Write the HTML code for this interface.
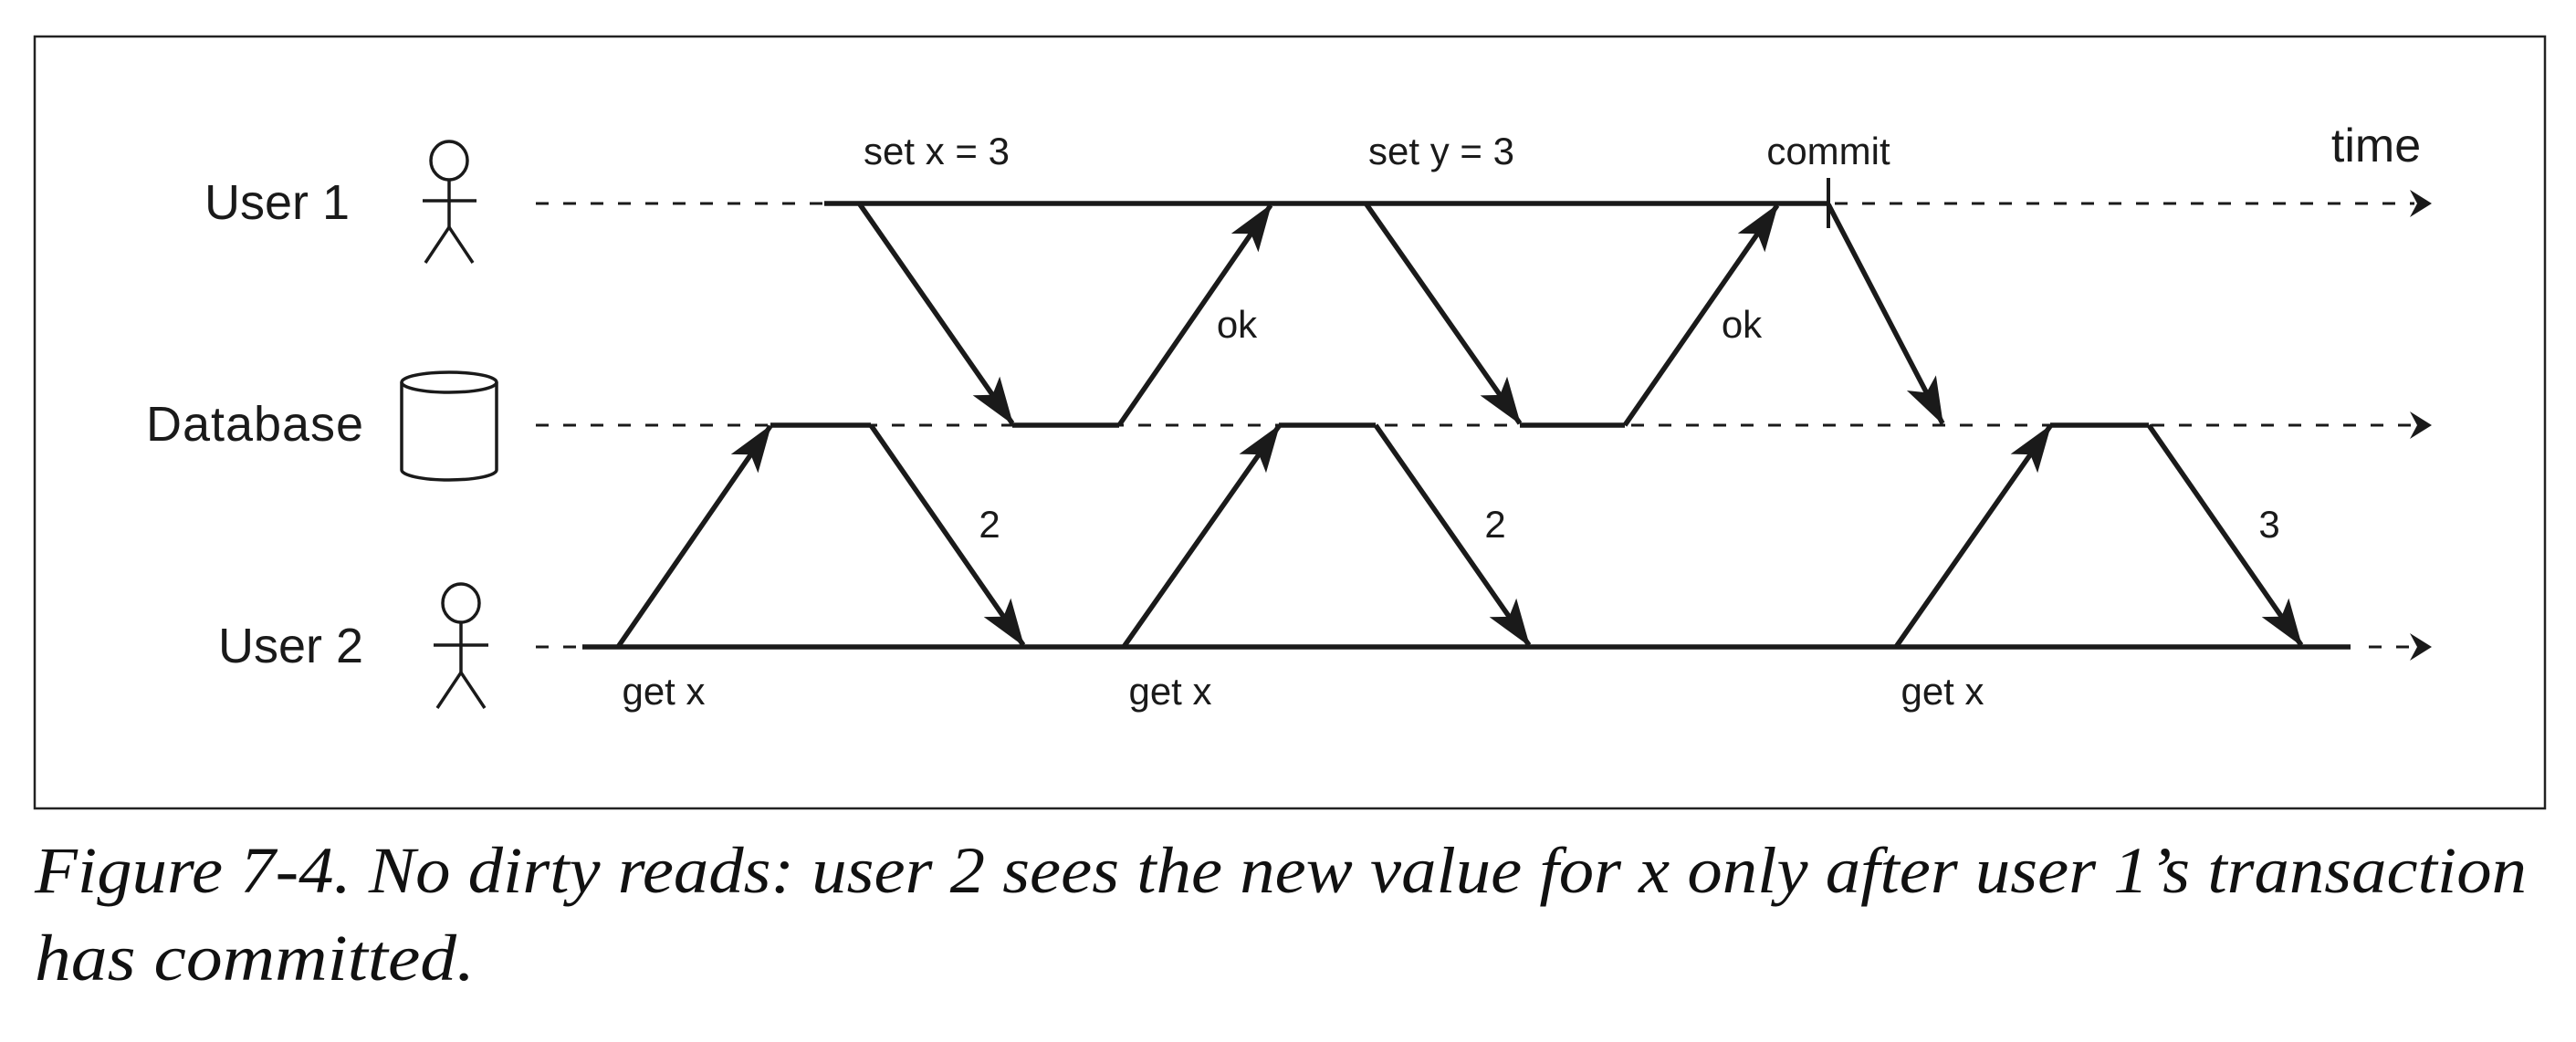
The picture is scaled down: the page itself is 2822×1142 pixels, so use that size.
<!DOCTYPE html>
<html><head><meta charset="utf-8"><style>
html,body{margin:0;padding:0;background:#fff}
svg{display:block}
</style></head><body>
<svg width="2822" height="1142" viewBox="0 0 2822 1142" xmlns="http://www.w3.org/2000/svg">
<defs>
<marker id="ah" markerUnits="userSpaceOnUse" markerWidth="60" markerHeight="40" viewBox="-52 -20 56 40" refX="0" refY="0" orient="auto">
<path d="M2,0 L-50,-18 L-38,0 L-50,18 Z" fill="#1a1a1a"/>
</marker>
</defs>
<rect x="38" y="40" width="2750" height="846" fill="none" stroke="#222" stroke-width="2.5"/>
<g font-family="Liberation Sans, sans-serif" fill="#1a1a1a">
<text x="383" y="240" font-size="54" text-anchor="end">User 1</text>
<text x="398" y="483" font-size="54" text-anchor="end" textLength="238">Database</text>
<text x="398" y="726" font-size="54" text-anchor="end">User 2</text>
<text x="1026" y="180" font-size="42" text-anchor="middle">set x = 3</text>
<text x="1579" y="180" font-size="42" text-anchor="middle">set y = 3</text>
<text x="2003" y="180" font-size="42" text-anchor="middle">commit</text>
<text x="2603" y="177" font-size="52" text-anchor="middle">time</text>
<text x="1355" y="370" font-size="42" text-anchor="middle">ok</text>
<text x="1908" y="370" font-size="42" text-anchor="middle">ok</text>
<text x="1084" y="589" font-size="42" text-anchor="middle">2</text>
<text x="1638" y="589" font-size="42" text-anchor="middle">2</text>
<text x="2486" y="589" font-size="42" text-anchor="middle">3</text>
<text x="727" y="772" font-size="42" text-anchor="middle">get x</text>
<text x="1282" y="772" font-size="42" text-anchor="middle">get x</text>
<text x="2128" y="772" font-size="42" text-anchor="middle">get x</text>
</g>
<g stroke="#1a1a1a" fill="none" stroke-width="3.5">
<!-- user1 figure -->
<ellipse cx="492" cy="176" rx="20" ry="21"/>
<line x1="492" y1="197" x2="492" y2="249"/>
<line x1="463" y1="220" x2="522" y2="220"/>
<polyline points="466,288 492,249 518,288"/>
<!-- user2 figure -->
<ellipse cx="505" cy="661" rx="20" ry="21"/>
<line x1="505" y1="682" x2="505" y2="737"/>
<line x1="475" y1="707" x2="535" y2="707"/>
<polyline points="479,776 505,737 531,776"/>
<!-- cylinder -->
<ellipse cx="492" cy="419" rx="52" ry="11"/>
<path d="M440,419 L440,515 A52,11 0 0 0 544,515 L544,419"/>
</g>
<g stroke="#1a1a1a" stroke-width="3" stroke-dasharray="14 16" fill="none">
<line x1="587" y1="223" x2="903" y2="223"/>
<line x1="2010" y1="223" x2="2645" y2="223"/>
<line x1="587" y1="466" x2="2645" y2="466"/>
<line x1="587" y1="709" x2="638" y2="709"/>
<line x1="2595" y1="709" x2="2645" y2="709"/>
</g>
<g fill="#1a1a1a">
<path d="M2664,223 L2640,208 L2648,223 L2640,238 Z"/>
<path d="M2664,466 L2640,451 L2648,466 L2640,481 Z"/>
<path d="M2664,709 L2640,694 L2648,709 L2640,724 Z"/>
</g>
<g stroke="#1a1a1a" stroke-width="5.5" fill="none" stroke-linecap="butt">
<line x1="903" y1="223" x2="2003" y2="223"/>
<line x1="2003" y1="195" x2="2003" y2="250" stroke-width="4"/>
<line x1="1109" y1="466" x2="1226" y2="466"/>
<line x1="1665" y1="466" x2="1780" y2="466"/>
<line x1="844" y1="466" x2="954" y2="466"/>
<line x1="1401" y1="466" x2="1507" y2="466"/>
<line x1="2246" y1="466" x2="2354" y2="466"/>
<line x1="638" y1="709" x2="2575" y2="709"/>
<line x1="942" y1="224" x2="1109" y2="464" marker-end="url(#ah)"/>
<line x1="1226" y1="466" x2="1392" y2="225" marker-end="url(#ah)"/>
<line x1="1497" y1="224" x2="1665" y2="464" marker-end="url(#ah)"/>
<line x1="1780" y1="466" x2="1947" y2="225" marker-end="url(#ah)"/>
<line x1="2003" y1="224" x2="2128" y2="464" marker-end="url(#ah)"/>
<line x1="677" y1="709" x2="844" y2="467" marker-end="url(#ah)"/>
<line x1="954" y1="466" x2="1121" y2="707" marker-end="url(#ah)"/>
<line x1="1231" y1="709" x2="1401" y2="467" marker-end="url(#ah)"/>
<line x1="1507" y1="466" x2="1675" y2="707" marker-end="url(#ah)"/>
<line x1="2077" y1="709" x2="2246" y2="467" marker-end="url(#ah)"/>
<line x1="2354" y1="466" x2="2521" y2="707" marker-end="url(#ah)"/>
</g>
<g font-family="Liberation Serif, serif" font-style="italic" font-size="72" fill="#111">
<text x="38" y="978" textLength="2730" lengthAdjust="spacingAndGlyphs">Figure 7-4. No dirty reads: user 2 sees the new value for x only after user 1’s transaction</text>
<text x="38" y="1074" textLength="482" lengthAdjust="spacingAndGlyphs">has committed.</text>
</g>
</svg>
</body></html>
